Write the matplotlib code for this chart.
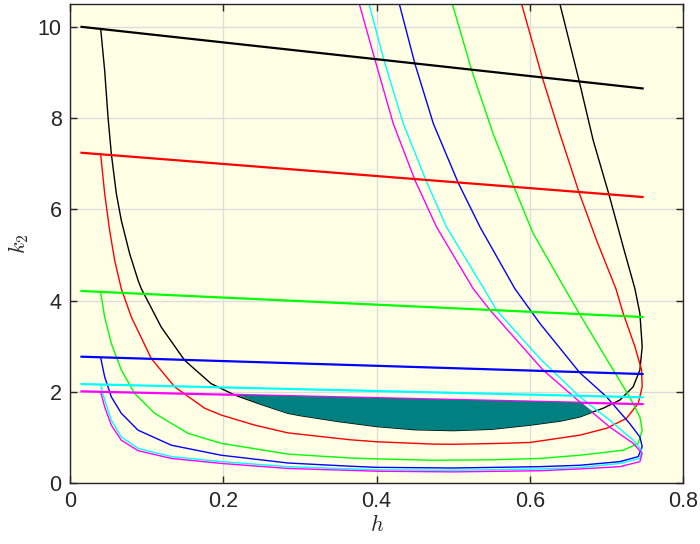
import matplotlib
matplotlib.use("Agg")
import matplotlib.pyplot as plt

# ---- data ----
colors = ["black", "#FF0000", "#00FF00", "#0000FF", "#00FFFF", "#FF00FF"]

# nearly straight lines: (x, k2)
line_x = [0.015, 0.747]
line_black = [10.0, 8.65]
line_red = [7.24, 6.27]
line_green = [4.21, 3.64]
line_blue = [2.77, 2.39]
line_cyan = [2.17, 1.88]
line_magenta = [2.01, 1.73]

# curves (left branch -> bottom -> right tip -> up to the top)
black_x = [0.040, 0.0452, 0.0496, 0.0539, 0.0604, 0.0669, 0.0778, 0.0887, 0.093, 0.0974, 0.119, 0.1496,
           0.184, 0.2148, 0.25, 0.2843, 0.30, 0.35, 0.40, 0.45, 0.50, 0.55, 0.60, 0.64, 0.665,
           0.6826, 0.6956, 0.7174, 0.7347, 0.7435, 0.7465, 0.7435, 0.737, 0.7217, 0.7034, 0.6826,
           0.6643, 0.639, 0.634]
black_y = [9.96, 9.05, 8.02, 7.22, 6.35, 5.76, 5.03, 4.45, 4.26, 4.12, 3.42, 2.69,
           2.18, 1.93, 1.72, 1.53, 1.48, 1.35, 1.24, 1.17, 1.15, 1.18, 1.27, 1.36, 1.45,
           1.56, 1.64, 1.82, 2.11, 2.48, 2.99, 3.72, 4.26, 5.18, 6.31, 7.51,
           8.81, 10.51, 10.8]

red_x = [0.040, 0.0452, 0.0517, 0.0583, 0.0669, 0.080, 0.106, 0.1365, 0.1757, 0.1974, 0.241, 0.2843,
         0.365, 0.40, 0.474, 0.50, 0.561, 0.60, 0.665, 0.700, 0.726, 0.7413, 0.7465, 0.7457, 0.737,
         0.7217, 0.7122, 0.687, 0.6643, 0.639, 0.6165, 0.589, 0.584]
red_y = [7.21, 6.35, 5.54, 4.88, 4.26, 3.64, 2.73, 2.11, 1.64, 1.49, 1.27, 1.10,
         0.95, 0.905, 0.854, 0.85, 0.87, 0.89, 1.05, 1.20, 1.42, 1.745, 2.11, 2.48, 2.99,
         3.72, 4.26, 5.32, 6.36, 7.66, 8.87, 10.51, 10.8]

green_x = [0.040, 0.0452, 0.0539, 0.0669, 0.0843, 0.1104, 0.1539, 0.1974, 0.2843, 0.365, 0.40, 0.474,
           0.55, 0.613, 0.665, 0.7217, 0.7413, 0.7465, 0.7435, 0.730, 0.7087, 0.70, 0.665, 0.6456,
           0.6043, 0.5795, 0.552, 0.524, 0.4987, 0.494]
green_y = [4.18, 3.64, 3.06, 2.48, 1.965, 1.53, 1.09, 0.87, 0.635, 0.55, 0.53, 0.50,
           0.51, 0.54, 0.61, 0.72, 0.87, 1.16, 1.45, 1.89, 2.48, 2.72, 3.70, 4.26,
           5.47, 6.48, 7.66, 9.05, 10.51, 10.8]

blue_x = [0.040, 0.0452, 0.0539, 0.0669, 0.0887, 0.1322, 0.1974, 0.2843, 0.365, 0.40, 0.50, 0.613,
          0.665, 0.7174, 0.7413, 0.7465, 0.7435, 0.730, 0.700, 0.665, 0.613, 0.5804, 0.535, 0.5065,
          0.474, 0.450, 0.4295, 0.426]
blue_y = [2.75, 2.33, 1.89, 1.53, 1.16, 0.83, 0.61, 0.44, 0.37, 0.345, 0.33, 0.36,
          0.39, 0.47, 0.58, 0.80, 1.01, 1.31, 1.89, 2.42, 3.5, 4.26, 5.61, 6.58,
          7.88, 9.19, 10.51, 10.8]

cyan_x = [0.040, 0.0452, 0.0539, 0.0669, 0.0887, 0.1322, 0.1974, 0.2843, 0.40, 0.50, 0.613, 0.665,
          0.7174, 0.7435, 0.7457, 0.7347, 0.704, 0.665, 0.613, 0.5565, 0.540, 0.4913, 0.4643,
          0.4348, 0.4096, 0.390, 0.386]
cyan_y = [2.15, 1.82, 1.38, 1.01, 0.76, 0.58, 0.47, 0.36, 0.29, 0.28, 0.31, 0.34,
          0.43, 0.54, 0.72, 0.94, 1.38, 1.89, 2.73, 3.79, 4.26, 5.61, 6.64,
          7.88, 9.27, 10.51, 10.8]

magenta_x = [0.040, 0.0452, 0.0539, 0.0669, 0.0887, 0.1322, 0.1974, 0.2843, 0.40, 0.50, 0.613, 0.665,
             0.7174, 0.7435, 0.7465, 0.7347, 0.704, 0.665, 0.617, 0.548, 0.526, 0.4783, 0.450,
             0.4217, 0.398, 0.378, 0.374]
magenta_y = [2.0, 1.67, 1.27, 0.94, 0.71, 0.54, 0.43, 0.32, 0.26, 0.245, 0.27, 0.31,
             0.36, 0.47, 0.65, 0.87, 1.23, 1.78, 2.48, 3.79, 4.26, 5.61, 6.64,
             7.88, 9.27, 10.47, 10.8]

# shaded (teal) region boundary
teal_x = [0.219, 0.666, 0.6826, 0.665, 0.64, 0.60, 0.55, 0.50, 0.45, 0.40, 0.35, 0.30, 0.2843, 0.25, 0.219]
teal_y = [1.932, 1.761, 1.56, 1.45, 1.36, 1.27, 1.18, 1.15, 1.17, 1.24, 1.35, 1.48, 1.53, 1.72, 1.932]

xticks = [0, 0.2, 0.4, 0.6, 0.8]
xticklabels = ["0", "0.2", "0.4", "0.6", "0.8"]
yticks = [0, 2, 4, 6, 8, 10]
yticklabels = ["0", "2", "4", "6", "8", "10"]

# ---- drawing ----
plt.rcParams['font.family'] = ['Liberation Sans', 'DejaVu Sans']
plt.rcParams['mathtext.fontset'] = 'cm'

fig = plt.figure(figsize=(7.0, 5.44), dpi=100)
ax = fig.add_axes([0.1, 0.112, 0.876, 0.8806])
ax.set_facecolor('#FFFFE6')

lines = [line_black, line_red, line_green, line_blue, line_cyan, line_magenta]
curves = [(black_x, black_y), (red_x, red_y), (green_x, green_y),
          (blue_x, blue_y), (cyan_x, cyan_y), (magenta_x, magenta_y)]

for c, (cx, cy) in zip(colors, curves):
    ax.plot(cx, cy, color=c, lw=1.0, zorder=2, solid_joinstyle='round', antialiased=True)
for c, ly in zip(colors, lines):
    ax.plot(line_x, ly, color=c, lw=1.6, zorder=2.5)

ax.fill(teal_x, teal_y, color='#008080', lw=0, zorder=3)

ax.set_xlim(0, 0.8)
ax.set_ylim(0, 10.5)
ax.set_xticks(xticks)
ax.set_xticklabels(xticklabels)
ax.set_yticks(yticks)
ax.set_yticklabels(yticklabels)
ax.grid(True, color='#DCDCDC', lw=1.0, zorder=0)
ax.set_axisbelow(True)
ax.tick_params(direction='in', length=5, width=1, top=True, right=True,
               labelsize=15.5, colors='#262626', pad=6)
for s in ax.spines.values():
    s.set_color('#262626')
    s.set_linewidth(1.0)

ax.set_xlabel(r'$h$', fontsize=16, color='#262626', labelpad=2)
ax.set_ylabel(r'$k_2$', fontsize=16, color='#262626', labelpad=5)

fig.savefig('out.png', dpi=100)
